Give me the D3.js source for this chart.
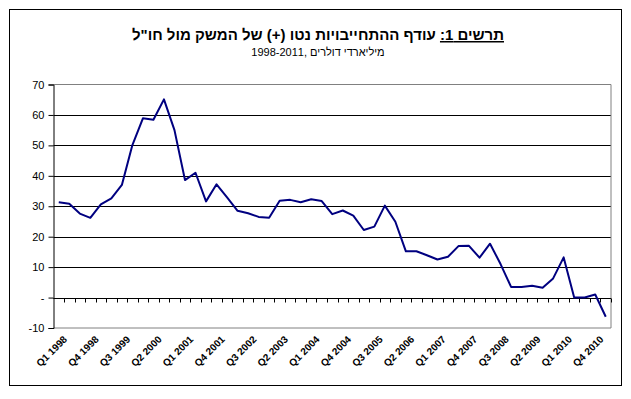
<!DOCTYPE html>
<html>
<head>
<meta charset="utf-8">
<script src="https://cdn.jsdelivr.net/npm/d3@7"></script>
<style>
	body { margin: 0; background: #fff; }
	svg { display: block; }
</style>
</head>
<body>
<div id="chart"></div>
<script>

// quarters, Q1 1998 .. Q1 2011
const quarters = [
	"Q1 1998","Q2 1998","Q3 1998","Q4 1998",
	"Q1 1999","Q2 1999","Q3 1999","Q4 1999",
	"Q1 2000","Q2 2000","Q3 2000","Q4 2000",
	"Q1 2001","Q2 2001","Q3 2001","Q4 2001",
	"Q1 2002","Q2 2002","Q3 2002","Q4 2002",
	"Q1 2003","Q2 2003","Q3 2003","Q4 2003",
	"Q1 2004","Q2 2004","Q3 2004","Q4 2004",
	"Q1 2005","Q2 2005","Q3 2005","Q4 2005",
	"Q1 2006","Q2 2006","Q3 2006","Q4 2006",
	"Q1 2007","Q2 2007","Q3 2007","Q4 2007",
	"Q1 2008","Q2 2008","Q3 2008","Q4 2008",
	"Q1 2009","Q2 2009","Q3 2009","Q4 2009",
	"Q1 2010","Q2 2010","Q3 2010","Q4 2010",
	"Q1 2011"
];

// net liabilities surplus, billions $
const netLiabilities = [
	31.3, 30.8, 27.6, 26.2,
	30.6, 32.6, 37.0, 50.1,
	58.9, 58.4, 65.1, 55.0,
	38.6, 41.0, 31.6, 37.2,
	32.9, 28.5, 27.7, 26.5,
	26.2, 31.8, 32.1, 31.3,
	32.3, 31.7, 27.4, 28.6,
	26.9, 22.2, 23.3, 30.2,
	24.9, 15.2, 15.2, 13.9,
	12.5, 13.4, 16.9, 17.0,
	13.1, 17.7, 11.0, 3.5,
	3.5, 3.9, 3.2, 6.3,
	13.2, 0.0, 0.0, 1.0,
	-6.3
];

const yTicks = [-10, 0, 10, 20, 30, 40, 50, 60, 70];
const yTickLabels = ["-10", "-", "10", "20", "30", "40", "50", "60", "70"];
const xLabelEvery = 3;

const titleMain = "עודף ההתחייבויות נטו (+) של המשק מול חו\"ל";
const titleLead = "תרשים 1:";
const subtitleYears = "1998-2011, ";
const subtitleUnit = "מיליארדי דולרים";

const width = 631,
	height = 399,
	plot = {left: 53.5, right: 611, top: 84.5, bottom: 328},
	font = "Arial, 'Liberation Sans', sans-serif";

const svg = d3.select('#chart').append('svg')
	.attr('width', width)
	.attr('height', height);

// outer frame
svg.append('rect')
	.attr('x', 9.5).attr('y', 9.5)
	.attr('width', 612).attr('height', 376)
	.style('fill', 'none')
	.style('stroke', '#000')
	.style('stroke-width', 1);

// title
const title = svg.append('text')
	.attr('x', 318).attr('y', 40)
	.attr('text-anchor', 'middle')
	.attr('direction', 'rtl')
	.style('font-family', font)
	.style('font-size', '15px')
	.style('font-weight', 'bold');
title.append('tspan')
	.style('text-decoration', 'underline')
	.text(titleLead);
title.append('tspan').text(' ' + titleMain);

// subtitle: years on the left, unit on the right
svg.append('text')
	.attr('x', 318).attr('y', 56)
	.attr('text-anchor', 'middle')
	.style('font-family', font)
	.style('font-size', '11px')
	.text(subtitleYears + subtitleUnit);

// scales
const x = d3.scaleBand()
	.domain(quarters)
	.range([plot.left, plot.right]);

const y = d3.scaleLinear()
	.domain([-10, 70])
	.range([plot.bottom, plot.top]);

// gridlines
svg.append('g')
	.selectAll('line')
	.data(yTicks.filter(d => d > -10 && d < 70))
	.enter().append('line')
		.attr('x1', plot.left).attr('x2', plot.right)
		.attr('y1', d => Math.round(y(d)) + 0.5)
		.attr('y2', d => Math.round(y(d)) + 0.5)
		.style('stroke', '#000')
		.style('stroke-width', 1);

// plot border (grey top / right / bottom)
svg.append('path')
	.attr('d', `M${plot.left},${plot.top}H${plot.right}V${plot.bottom}H${plot.left}`)
	.style('fill', 'none')
	.style('stroke', '#808080')
	.style('stroke-width', 1);

// y axis
const yAxis = svg.append('g')
	.attr('transform', `translate(${plot.left},0)`)
	.call(d3.axisLeft(y)
		.tickValues(yTicks)
		.tickSize(5)
		.tickPadding(4)
		.tickFormat((d, i) => yTickLabels[i]));
yAxis.select('.domain').style('stroke', '#000');
yAxis.selectAll('.tick line').style('stroke', '#000');
yAxis.selectAll('text')
	.style('font-family', font)
	.style('font-size', '11px')
	.style('fill', '#000');

// x axis on zero line, ticks at category boundaries
const xAxisG = svg.append('g')
	.attr('transform', `translate(0,${Math.round(y(0)) + 0.5})`);
xAxisG.append('line')
	.attr('x1', plot.left).attr('x2', plot.right)
	.style('stroke', '#000');
xAxisG.selectAll('.xtick')
	.data(quarters)
	.enter().append('line')
		.attr('class', 'xtick')
		.attr('x1', d => Math.round(x(d) + x.bandwidth()) + 0.5)
		.attr('x2', d => Math.round(x(d) + x.bandwidth()) + 0.5)
		.attr('y1', 0).attr('y2', 4)
		.style('stroke', '#000');

// x labels, rotated
svg.append('g')
	.selectAll('text')
	.data(quarters.filter((d, i) => i % xLabelEvery == 0))
	.enter().append('text')
		.attr('text-anchor', 'end')
		.attr('transform', d => `translate(${x(d) + x.bandwidth() / 2 + 9},${plot.bottom + 12}) rotate(-45)`)
		.style('font-family', font)
		.style('font-size', '10px')
		.style('font-weight', 'bold')
		.text(d => d);

// the line
const line = d3.line()
	.x((d, i) => x(quarters[i]) + x.bandwidth() / 2)
	.y(d => y(d));

svg.append('path')
	.datum(netLiabilities)
	.attr('d', line)
	.style('fill', 'none')
	.style('stroke', '#000080')
	.style('stroke-width', 2)
	.style('stroke-linejoin', 'round');

</script>
</body>
</html>
